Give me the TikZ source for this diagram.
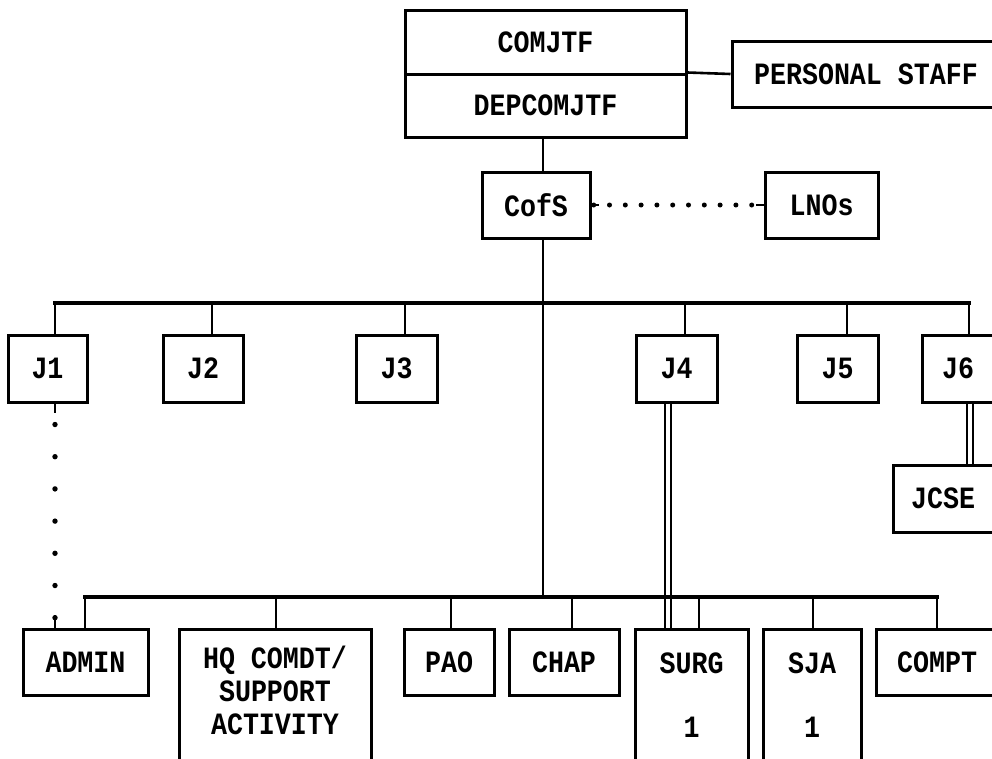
\documentclass[tikz,border=0pt]{standalone}
\usepackage{fontspec}
\newfontfamily\orgfont[FakeStretch=0.86]{Liberation Mono}

\tikzset{
  unit/.style={draw, line width=3pt, fill=white, inner sep=0pt, align=center,
               font=\orgfont\bfseries\fontsize{31}{33}\selectfont},
  lbl/.style={inner sep=0pt, align=center, font=\orgfont\bfseries\fontsize{31}{33}\selectfont},
  link/.style={line width=2.6pt},
  bus/.style={line width=3.6pt, line cap=rect},
  dbl/.style={double, double distance=3.6pt, line width=2.2pt},
  dotsh/.style={line width=5pt, line cap=round, dash pattern=on 0pt off 15.8pt, dash phase=13.6pt},
  dotsv/.style={line width=5.4pt, line cap=round, dash pattern=on 0pt off 32.2pt, dash phase=11.2pt},
}

\begin{document}
\begin{tikzpicture}[x=1pt, y=-1pt]
  \useasboundingbox (0,0) rectangle (992,758);
  \clip (0,0) rectangle (992,758);
  \fill[white] (0,0) rectangle (992,758);

  % command group
  \node[unit, minimum width=281pt, minimum height=64pt] (comjtf) at (545.5,42) {COMJTF};
  \node[unit, minimum width=281pt, minimum height=63pt] (depcom) at (545.5,105.5) {DEPCOMJTF};
  \node[unit, minimum width=268pt, minimum height=66pt] (pstaff) at (866,74) {PERSONAL STAFF};
  \node[unit, minimum width=108pt, minimum height=66pt] (cofs) at (536,205) {CofS};
  \node[unit, minimum width=113pt, minimum height=66pt] (lnos) at (821.5,205) {LNOs};

  % J-staff row
  \node[unit, minimum width=79pt, minimum height=67pt] (j1) at (47.5,368.5) {J1};
  \node[unit, minimum width=80pt, minimum height=67pt] (j2) at (203,368.5) {J2};
  \node[unit, minimum width=81pt, minimum height=67pt] (j3) at (396.5,368.5) {J3};
  \node[unit, minimum width=81pt, minimum height=67pt] (j4) at (676.5,368.5) {J4};
  \node[unit, minimum width=81pt, minimum height=67pt] (j5) at (837.5,368.5) {J5};
  \node[unit, minimum width=72pt, minimum height=67pt] (j6) at (958,368.5) {J6};
  \node[unit, minimum width=100pt, minimum height=67pt] (jcse) at (943,498.5) {JCSE};

  % special staff row
  \node[unit, minimum width=125pt, minimum height=66pt] (admin) at (85.5,662) {ADMIN};
  \node[unit, minimum width=192pt, minimum height=136pt] (hq) at (275,697) {};
  \node[lbl] (hqtext) at (275,690) {HQ COMDT/\\SUPPORT\\ACTIVITY};
  \node[unit, minimum width=90pt, minimum height=66pt] (pao) at (449,662) {PAO};
  \node[unit, minimum width=110pt, minimum height=66pt] (chap) at (564,662) {CHAP};
  \node[unit, minimum width=113pt, minimum height=136pt] (surg) at (691.5,697) {};
  \node[lbl] (surgname) at (691.5,663) {SURG};
  \node[lbl] (surgnum) at (691.5,727) {1};
  \node[unit, minimum width=98pt, minimum height=136pt] (sja) at (812,697) {};
  \node[lbl] (sjaname) at (812,663) {SJA};
  \node[lbl] (sjanum) at (812,727) {1};
  \node[unit, minimum width=122pt, minimum height=66pt] (compt) at (937,662) {COMPT};

  % bus and drop points
  \coordinate (spine) at (543,0);
  \coordinate (u1) at (55,303);
  \coordinate (u2) at (212,303);
  \coordinate (u3) at (405,303);
  \coordinate (u4) at (685,303);
  \coordinate (u5) at (847,303);
  \coordinate (u6) at (969,303);
  \coordinate (l1) at (85,597);
  \coordinate (l2) at (276,597);
  \coordinate (l3) at (451,597);
  \coordinate (l4) at (572,597);
  \coordinate (l5) at (699,597);
  \coordinate (l6) at (813,597);
  \coordinate (l7) at (937,597);
  \coordinate (j4x) at (668,0);
  \coordinate (j6x) at (970,0);

  % command chain
  \draw[link] (depcom.north east) -- (pstaff.west);
  \draw[link] (depcom.south -| spine) -- (cofs.north -| spine);
  \draw[link] (cofs.south -| spine) -- (l1 -| spine);

  % liaison (dotted)
  \draw[link] (cofs.east) -- ++(7,0);
  \draw[link] (lnos.west) -- ++(-8,0);
  \draw[dotsh] (cofs.east) -- (lnos.west);

  % J1 to ADMIN (dotted)
  \draw[link] (j1.south -| u1) -- ++(0,9);
  \draw[link] (admin.north -| u1) -- ++(0,-13);
  \draw[dotsv] (j1.south -| u1) -- (admin.north -| u1);

  % coordinating links (double)
  \draw[dbl] (j4.south -| j4x) -- (surg.north -| j4x);
  \draw[dbl] (j6.south -| j6x) -- (jcse.north -| j6x);

  % upper bus
  \draw[bus] (u1) -- (u6);
  \draw[link] (u1) -- (u1 |- j1.north);
  \draw[link] (u2) -- (u2 |- j2.north);
  \draw[link] (u3) -- (u3 |- j3.north);
  \draw[link] (u4) -- (u4 |- j4.north);
  \draw[link] (u5) -- (u5 |- j5.north);
  \draw[link] (u6) -- (u6 |- j6.north);

  % lower bus
  \draw[bus] (l1) -- (l7);
  \draw[link] (l1) -- (l1 |- admin.north);
  \draw[link] (l2) -- (l2 |- hq.north);
  \draw[link] (l3) -- (l3 |- pao.north);
  \draw[link] (l4) -- (l4 |- chap.north);
  \draw[link] (l5) -- (l5 |- surg.north);
  \draw[link] (l6) -- (l6 |- sja.north);
  \draw[link] (l7) -- (l7 |- compt.north);
\end{tikzpicture}
\end{document}
